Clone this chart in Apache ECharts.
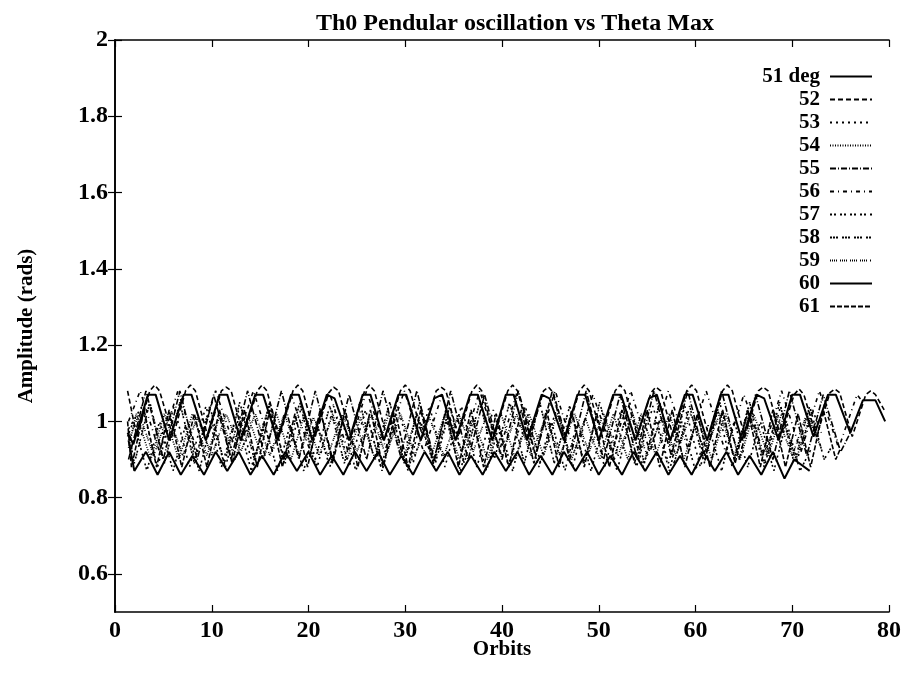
<!DOCTYPE html>
<html>
<head>
<meta charset="utf-8">
<script src="https://cdn.jsdelivr.net/npm/echarts@6/dist/echarts.min.js"></script>
<style>html,body{margin:0;padding:0;background:#fff}#c{width:909px;height:676px}</style>
</head>
<body>
<div id="c"></div>
<script>
// ---- data (orbit, amplitude in rads) ----
const seriesNames = ['51 deg','52','53','54','55','56','57','58','59','60','61'];
const yTickValues = [0.6,0.8,1,1.2,1.4,1.6,1.8,2];

const s51 = [[1.4,0.95],[2.0,0.87],[3.2,0.92],[4.4,0.86],[5.6,0.92],[6.8,0.86],[8.0,0.91],[9.2,0.86],[10.4,0.92],[11.6,0.87],[12.8,0.92],[14.0,0.86],[15.2,0.91],[16.4,0.86],[17.6,0.92],[18.8,0.87],[20.0,0.92],[21.2,0.86],[22.4,0.91],[23.6,0.86],[24.8,0.92],[26.0,0.87],[27.2,0.92],[28.4,0.86],[29.6,0.91],[30.8,0.86],[32.0,0.92],[33.2,0.87],[34.4,0.92],[35.6,0.86],[36.8,0.91],[38.0,0.86],[39.2,0.92],[40.4,0.87],[41.6,0.92],[42.8,0.86],[44.0,0.91],[45.2,0.86],[46.4,0.92],[47.6,0.87],[48.8,0.92],[50.0,0.86],[51.2,0.91],[52.4,0.86],[53.6,0.92],[54.8,0.87],[56.0,0.92],[57.2,0.86],[58.4,0.91],[59.6,0.86],[60.8,0.92],[62.0,0.87],[63.2,0.92],[64.4,0.86],[65.6,0.91],[66.8,0.86],[68.0,0.92],[69.2,0.85],[70.2,0.90],[71.8,0.87]];
const s52 = [[1.3,1.08],[2.25,0.96],[3.6,1.08],[4.1,1.095],[4.6,1.08],[6.0,0.96],[7.3,1.08],[7.8,1.095],[8.3,1.08],[9.6,0.96],[11.0,1.08],[11.5,1.09],[12.0,1.08],[13.3,0.96],[14.7,1.08],[15.2,1.095],[15.7,1.08],[17.0,0.96],[18.4,1.08],[18.9,1.095],[19.4,1.08],[20.7,0.96],[22.1,1.075],[22.6,1.09],[23.1,1.08],[24.4,0.96],[25.8,1.08],[26.3,1.095],[26.8,1.08],[28.1,0.96],[29.5,1.08],[30.0,1.095],[30.5,1.08],[31.8,0.96],[33.2,1.08],[33.7,1.09],[34.2,1.08],[35.5,0.96],[36.9,1.08],[37.4,1.095],[37.9,1.08],[39.2,0.96],[40.6,1.08],[41.1,1.095],[41.6,1.08],[42.9,0.96],[44.3,1.08],[44.8,1.09],[45.3,1.075],[46.6,0.96],[48.0,1.08],[48.5,1.095],[49.0,1.08],[50.3,0.96],[51.7,1.08],[52.2,1.095],[52.7,1.08],[54.0,0.96],[55.4,1.075],[55.9,1.09],[56.4,1.08],[57.7,0.96],[59.1,1.08],[59.6,1.095],[60.1,1.08],[61.4,0.96],[62.8,1.08],[63.3,1.095],[63.8,1.08],[65.1,0.96],[66.5,1.08],[67.0,1.09],[67.5,1.08],[68.8,0.96],[70.2,1.07],[70.7,1.085],[71.2,1.07],[72.5,0.96],[73.9,1.075],[74.4,1.085],[74.9,1.075],[76.2,0.96],[77.6,1.07],[78.1,1.08],[78.6,1.07],[79.5,1.03]];
const s53 = [[1.4,0.98],[2.8,1.04],[4.4,0.88],[6.1,1.04],[7.7,0.88],[9.4,1.04],[11.0,0.88],[12.7,1.03],[14.3,0.88],[16.0,1.04],[17.6,0.89],[19.3,1.04],[20.9,0.88],[22.6,1.04],[24.2,0.88],[25.9,1.03],[27.5,0.88],[29.2,1.04],[30.8,0.89],[32.5,1.04],[34.1,0.88],[35.8,1.04],[37.4,0.88],[39.1,1.03],[40.7,0.88],[42.4,1.04],[44.0,0.89],[45.7,1.04],[47.3,0.88],[49.0,1.04],[50.6,0.88],[52.3,1.03],[53.9,0.88],[55.6,1.04],[57.2,0.89],[58.9,1.04],[60.5,0.88],[62.2,1.04],[63.8,0.88],[65.5,1.03],[67.1,0.88],[68.8,1.04],[70.4,0.89],[72.1,1.03],[73.0,0.97]];
const s54 = [[1.4,0.93],[2.2,1.02],[3.7,0.90],[5.1,1.02],[6.6,0.90],[8.0,1.02],[9.5,0.91],[10.9,1.02],[12.4,0.90],[13.8,1.01],[15.3,0.90],[16.7,1.02],[18.2,0.90],[19.6,1.02],[21.1,0.91],[22.5,1.02],[24.0,0.90],[25.4,1.01],[26.9,0.90],[28.3,1.02],[29.8,0.90],[31.2,1.02],[32.7,0.91],[34.1,1.02],[35.6,0.90],[37.0,1.01],[38.5,0.90],[39.9,1.02],[41.4,0.90],[42.8,1.02],[44.3,0.91],[45.7,1.02],[47.2,0.90],[48.6,1.01],[50.1,0.90],[51.5,1.02],[53.0,0.90],[54.4,1.02],[55.9,0.91],[57.3,1.02],[58.8,0.90],[60.2,1.01],[61.7,0.90],[63.1,1.02],[64.6,0.90],[66.0,1.02],[67.5,0.91],[68.9,1.02],[70.4,0.90],[71.8,1.01],[72.5,0.98]];
const s55 = [[1.4,0.90],[3.2,1.08],[5.0,0.90],[6.7,1.08],[8.5,0.90],[10.2,1.07],[12.0,0.90],[13.7,1.08],[15.5,0.91],[17.2,1.08],[19.0,0.90],[20.7,1.08],[22.5,0.90],[24.2,1.07],[26.0,0.90],[27.7,1.08],[29.5,0.91],[31.2,1.08],[33.0,0.90],[34.7,1.08],[36.5,0.90],[38.2,1.07],[40.0,0.90],[41.7,1.08],[43.5,0.91],[45.2,1.08],[47.0,0.90],[48.7,1.08],[50.5,0.90],[52.2,1.07],[54.0,0.90],[55.7,1.08],[57.5,0.91],[59.2,1.08],[61.0,0.90],[62.7,1.08],[64.5,0.90],[66.2,1.07],[68.0,0.90],[69.7,1.08],[71.5,0.91],[73.2,1.07],[75.0,0.92],[76.0,0.97]];
const s56 = [[1.4,1.00],[2.6,1.08],[4.6,0.92],[6.5,1.08],[8.5,0.92],[10.4,1.08],[12.4,0.93],[14.3,1.08],[16.3,0.92],[18.2,1.07],[20.2,0.92],[22.1,1.08],[24.1,0.92],[26.0,1.08],[28.0,0.93],[29.9,1.08],[31.9,0.92],[33.8,1.07],[35.8,0.92],[37.7,1.08],[39.7,0.92],[41.6,1.08],[43.6,0.93],[45.5,1.08],[47.5,0.92],[49.4,1.07],[51.4,0.92],[53.3,1.08],[55.3,0.92],[57.2,1.08],[59.2,0.93],[61.1,1.08],[63.1,0.92],[65.0,1.07],[67.0,0.92],[68.9,1.08],[70.9,0.92],[72.8,1.08],[74.8,0.93],[76.7,1.07],[77.3,1.05]];
const s57 = [[1.3,0.96],[1.9,1.00],[3.3,0.87],[4.6,1.00],[6.0,0.87],[7.3,0.99],[8.7,0.87],[10.0,1.00],[11.4,0.88],[12.7,1.00],[14.1,0.87],[15.4,1.00],[16.8,0.87],[18.1,0.99],[19.5,0.87],[20.8,1.00],[22.2,0.88],[23.5,1.00],[24.9,0.87],[26.2,1.00],[27.6,0.87],[28.9,0.99],[30.3,0.87],[31.6,1.00],[33.0,0.88],[34.3,1.00],[35.7,0.87],[37.0,1.00],[38.4,0.87],[39.7,0.99],[41.1,0.87],[42.4,1.00],[43.8,0.88],[45.1,1.00],[46.5,0.87],[47.8,1.00],[49.2,0.87],[50.5,0.99],[51.9,0.87],[53.2,1.00],[54.6,0.88],[55.9,1.00],[57.3,0.87],[58.6,1.00],[60.0,0.87],[61.3,0.99],[62.7,0.87],[64.0,1.00],[65.4,0.88],[66.7,1.00],[68.1,0.87],[69.4,1.00],[70.8,0.87],[72.0,0.93]];
const s58 = [[1.4,0.97],[2.0,0.89],[3.6,1.05],[5.1,0.89],[6.7,1.05],[8.2,0.89],[9.8,1.04],[11.3,0.89],[12.9,1.05],[14.4,0.90],[16.0,1.05],[17.5,0.89],[19.1,1.05],[20.6,0.89],[22.2,1.04],[23.7,0.89],[25.3,1.05],[26.8,0.90],[28.4,1.05],[29.9,0.89],[31.5,1.05],[33.0,0.89],[34.6,1.04],[36.1,0.89],[37.7,1.05],[39.2,0.90],[40.8,1.05],[42.3,0.89],[43.9,1.05],[45.4,0.89],[47.0,1.04],[48.5,0.89],[50.1,1.05],[51.6,0.90],[53.2,1.05],[54.7,0.89],[56.3,1.05],[57.8,0.89],[59.4,1.04],[60.9,0.89],[62.5,1.05],[64.0,0.90],[65.6,1.05],[67.1,0.89],[68.7,1.05],[70.2,0.89],[71.8,1.04],[73.3,0.90],[74.0,0.93]];
const s59 = [[1.4,0.95],[2.5,1.02],[4.0,0.91],[5.5,1.02],[7.0,0.91],[8.5,1.01],[10.0,0.91],[11.5,1.02],[13.0,0.92],[14.5,1.02],[16.0,0.91],[17.5,1.02],[19.0,0.91],[20.5,1.01],[22.0,0.91],[23.5,1.02],[25.0,0.92],[26.5,1.02],[28.0,0.91],[29.5,1.02],[31.0,0.91],[32.5,1.01],[34.0,0.91],[35.5,1.02],[37.0,0.92],[38.5,1.02],[40.0,0.91],[41.5,1.02],[43.0,0.91],[44.5,1.01],[46.0,0.91],[47.5,1.02],[49.0,0.92],[50.5,1.02],[52.0,0.91],[53.5,1.02],[55.0,0.91],[56.5,1.01],[58.0,0.91],[59.5,1.02],[61.0,0.92],[62.5,1.02],[64.0,0.91],[65.5,1.02],[67.0,0.91],[68.5,1.01],[70.0,0.91],[71.5,1.02],[73.0,0.93]];
const s60 = [[1.3,0.97],[1.9,0.94],[3.4,1.07],[4.2,1.07],[5.6,0.95],[7.1,1.07],[7.9,1.07],[9.4,0.95],[10.8,1.07],[11.6,1.07],[13.0,0.95],[14.5,1.07],[15.3,1.07],[16.8,0.95],[18.2,1.07],[19.0,1.07],[20.4,0.95],[21.9,1.07],[22.7,1.06],[24.2,0.95],[25.6,1.07],[26.4,1.07],[27.8,0.95],[29.3,1.07],[30.1,1.07],[31.6,0.95],[33.0,1.06],[33.8,1.07],[35.2,0.95],[36.7,1.07],[37.5,1.07],[39.0,0.95],[40.4,1.07],[41.2,1.07],[42.6,0.95],[44.1,1.07],[44.9,1.06],[46.4,0.95],[47.8,1.07],[48.6,1.07],[50.0,0.95],[51.5,1.07],[52.3,1.07],[53.8,0.95],[55.2,1.06],[56.0,1.07],[57.4,0.95],[58.9,1.07],[59.7,1.07],[61.2,0.95],[62.6,1.07],[63.4,1.07],[64.8,0.95],[66.3,1.07],[67.1,1.06],[68.6,0.95],[70.0,1.07],[70.8,1.07],[72.2,0.96],[73.7,1.07],[74.5,1.07],[76.0,0.97],[77.3,1.055],[78.6,1.055],[79.6,1.0]];
const s61 = [[1.3,1.00],[1.7,0.88],[3.0,1.03],[4.3,0.88],[5.6,1.03],[6.9,0.88],[8.2,1.02],[9.5,0.88],[10.8,1.03],[12.1,0.89],[13.4,1.03],[14.7,0.88],[16.0,1.03],[17.3,0.88],[18.6,1.02],[19.9,0.88],[21.2,1.03],[22.5,0.89],[23.8,1.03],[25.1,0.88],[26.4,1.03],[27.7,0.88],[29.0,1.02],[30.3,0.88],[31.6,1.03],[32.9,0.89],[34.2,1.03],[35.5,0.88],[36.8,1.03],[38.1,0.88],[39.4,1.02],[40.7,0.88],[42.0,1.03],[43.3,0.89],[44.6,1.03],[45.9,0.88],[47.2,1.03],[48.5,0.88],[49.8,1.02],[51.1,0.88],[52.4,1.03],[53.7,0.89],[55.0,1.03],[56.3,0.88],[57.6,1.03],[58.9,0.88],[60.2,1.02],[61.5,0.88],[62.8,1.03],[64.1,0.89],[65.4,1.03],[66.7,0.88],[68.0,1.03],[69.3,0.88],[70.6,1.02],[71.9,0.88],[73.2,1.03],[74.5,0.90],[75.0,0.93]];

const seriesData = [s51,s52,s53,s54,s55,s56,s57,s58,s59,s60,s61];
// dash patterns per series (style only)
const dashTypes = ['solid',[5,3],[2,4],[1,1.5],[6,2,1,2],[4,4,1,4],[2,2,2,4],[2,1,2,1,2,4],[1,1,1,1,1,1,1,3],'solid',[5,2]];

const FONT = '"Liberation Serif","Times New Roman",serif';
const chart = echarts.init(document.getElementById('c'), null, {renderer:'canvas'});

const series = seriesData.map((d,i)=>({
  name: seriesNames[i],
  type: 'line',
  data: d,
  xAxisIndex: 0, yAxisIndex: 0,
  symbol: 'none', showSymbol: false,
  lineStyle: {color:'#000', width: dashTypes[i]==='solid' ? 2 : 1.6, type: dashTypes[i]},
  itemStyle: {color:'#000'},
  emphasis: {disabled:true},
  silent: true,
  z: 2
}));

const axisLineStyle = {show:true, lineStyle:{color:'#000', width:1.6}};
chart.setOption({
  animation: false,
  backgroundColor: '#fff',
  title: {
    text: 'Th0 Pendular oscillation vs Theta Max',
    left: 510, top: 7, textAlign: 'center',
    textStyle: {fontFamily: FONT, fontWeight:'bold', fontSize: 24, color:'#000'}
  },
  legend: {
    orient: 'vertical', right: 31, top: 61,
    align: 'right',
    icon: 'inherit',
    itemWidth: 42, itemHeight: 10, itemGap: 2,
    itemStyle: {opacity: 0},
    data: seriesNames,
    textStyle: {fontFamily: FONT, fontWeight:'bold', fontSize: 21, color:'#000', lineHeight: 20, width: 62, align:'right', padding:[0,5,0,0]},
    selectedMode: false
  },
  grid: {left: 115, right: 20, top: 40, bottom: 64, containLabel:false},
  xAxis: [{
    type:'value', min:0, max:80, interval:10, position:'bottom',
    name:'Orbits', nameLocation:'middle', nameGap: 27, nameMoveOverlap: false,
    nameTextStyle:{fontFamily: FONT, fontWeight:'bold', fontSize: 21, color:'#000'},
    axisLine: axisLineStyle,
    axisTick: {show:true, inside:true, length:7, lineStyle:{color:'#000', width:1.2}},
    axisLabel: {fontFamily: FONT, fontWeight:'bold', fontSize: 24, color:'#000', margin: 7},
    splitLine: {show:false}
  },{
    type:'value', min:0, max:80, interval:10, position:'top',
    axisLine: axisLineStyle,
    axisTick: {show:true, inside:true, length:7, lineStyle:{color:'#000', width:1.2}},
    axisLabel: {show:false}, splitLine:{show:false}
  }],
  yAxis: [{
    type:'value', min:0.5, max:2, position:'left',
    name:'Amplitude (rads)', nameLocation:'middle', nameGap: 78, nameRotate: 90, nameMoveOverlap: false,
    nameTextStyle:{fontFamily: FONT, fontWeight:'bold', fontSize: 21, color:'#000'},
    axisLine: axisLineStyle,
    axisTick: {show:true, inside:true, length:7, customValues: yTickValues, lineStyle:{color:'#000', width:1.2}},
    axisLabel: {fontFamily: FONT, fontWeight:'bold', fontSize: 24, color:'#000', margin: 7, customValues: yTickValues,
      formatter: v => String(Math.round(v*10)/10)},
    splitLine: {show:false}
  },{
    type:'value', min:0.5, max:2, position:'right',
    axisLine: axisLineStyle,
    axisTick: {show:true, inside:true, length:7, customValues: yTickValues, lineStyle:{color:'#000', width:1.2}},
    axisLabel: {show:false}, splitLine:{show:false}
  }],
  series: series
});
</script>
</body>
</html>
